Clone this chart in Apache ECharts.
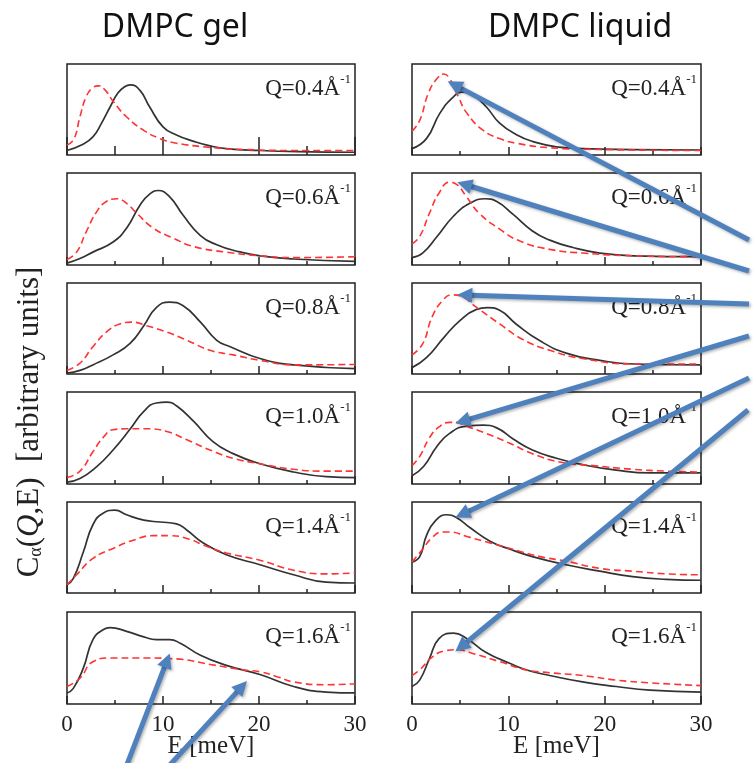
<!DOCTYPE html>
<html><head><meta charset="utf-8">
<script src="https://cdn.jsdelivr.net/npm/echarts@6/dist/echarts.min.js"></script>
<style>html,body{margin:0;padding:0;background:#fff}#c{width:753px;height:763px}</style>
</head><body><div id="c"></div>
<script>
// ---------------- data ----------------
const columnTitles = ['DMPC gel', 'DMPC liquid'];
const qLabels = ['0.4', '0.6', '0.8', '1.0', '1.4', '1.6'];
const xTicks = [0, 10, 20, 30];
const xTitle = 'E [meV]';

// DMPC gel, [E (meV), C (arb. units, panel-normalised)]
const gel04Black = [[0,0.05],[1.5,0.11],[2.7,0.2],[3.6,0.35],[4.5,0.53],[5.3,0.68],[6.0,0.75],[6.6,0.77],[7.6,0.71],[8.6,0.53],[10,0.31],[11.4,0.22],[13.2,0.15],[14.9,0.1],[16.6,0.07],[20,0.05],[24,0.037],[30,0.03]];
const gel04Red   = [[0,0.11],[0.7,0.17],[1.35,0.42],[2,0.64],[2.7,0.74],[3.3,0.76],[4,0.71],[4.8,0.59],[6.2,0.42],[8,0.27],[9.7,0.18],[11.4,0.13],[14.9,0.084],[18.4,0.06],[24,0.05],[30,0.05]];
const gel06Black = [[0,0.02],[1.35,0.07],[2.7,0.14],[4.8,0.25],[6.2,0.4],[7.6,0.65],[8.6,0.77],[9.5,0.81],[10.7,0.74],[12.1,0.54],[13.9,0.32],[15.6,0.22],[17.7,0.15],[20.1,0.1],[23.6,0.065],[30,0.04]];
const gel06Red   = [[0,0.06],[1,0.14],[2,0.36],[3.1,0.58],[4.1,0.69],[5.2,0.72],[6.2,0.67],[7.3,0.56],[9,0.4],[11.1,0.29],[13.2,0.2],[16.6,0.14],[20.1,0.1],[23.6,0.08],[30,0.09]];
const gel08Black = [[0,0.01],[1.35,0.04],[2.7,0.1],[4.8,0.21],[6.6,0.34],[8,0.53],[9.3,0.73],[10.7,0.79],[12.1,0.75],[13.9,0.57],[15.6,0.37],[17,0.3],[20.1,0.17],[23.6,0.1],[30,0.06]];
const gel08Red   = [[0,0.04],[1.35,0.12],[2.7,0.3],[4.1,0.46],[5.5,0.55],[6.7,0.57],[8.3,0.53],[10.4,0.46],[12.5,0.37],[14.9,0.26],[17.3,0.21],[20.1,0.15],[23.6,0.1],[30,0.105]];
const gel10Black = [[0,0.02],[1.35,0.06],[3.1,0.19],[4.8,0.37],[6.6,0.6],[8,0.79],[9.3,0.88],[10.4,0.89],[11.4,0.85],[13.2,0.68],[15.2,0.46],[17.3,0.33],[20.1,0.22],[23.6,0.13],[27,0.08],[30,0.07]];
const gel10Red   = [[0,0.07],[1.35,0.14],[2.7,0.35],[3.8,0.51],[4.8,0.59],[6.2,0.6],[8.3,0.6],[10.4,0.57],[12.5,0.48],[14.9,0.37],[17.3,0.28],[20.1,0.22],[23.6,0.16],[27,0.14],[30,0.14]];
const gel14Black = [[0,0.09],[0.66,0.16],[1.7,0.45],[2.7,0.75],[3.8,0.88],[5,0.91],[6.2,0.86],[8,0.8],[9.7,0.78],[11.4,0.76],[12.5,0.69],[14.2,0.55],[16.6,0.42],[20.1,0.31],[23.6,0.2],[27,0.12],[30,0.11]];
const gel14Red   = [[0,0.09],[1,0.2],[2.7,0.38],[4.8,0.49],[6.9,0.58],[9,0.63],[10.7,0.63],[12.5,0.6],[14.6,0.51],[16.6,0.44],[20.1,0.36],[23.6,0.25],[27,0.21],[30,0.22]];
const gel16Black = [[0,0.12],[0.66,0.17],[1.7,0.39],[2.7,0.7],[3.8,0.81],[4.5,0.83],[6.2,0.79],[8,0.73],[9.3,0.7],[10.7,0.7],[11.8,0.66],[13.9,0.53],[16.6,0.42],[20.1,0.32],[23.6,0.19],[27,0.13],[30,0.12]];
const gel16Red   = [[0,0.19],[1.35,0.28],[2.7,0.46],[4.5,0.5],[8,0.5],[11.4,0.49],[14.9,0.43],[18.4,0.37],[20.1,0.35],[21.8,0.3],[23.6,0.24],[27,0.21],[30,0.22]];

// DMPC liquid
const liq04Black = [[0,0.07],[1.5,0.18],[2.9,0.46],[4.3,0.64],[5.2,0.69],[6.4,0.65],[7.7,0.53],[9.1,0.35],[10.9,0.22],[12.5,0.15],[15,0.09],[17.8,0.07],[23,0.06],[30,0.055]];
const liq04Red   = [[0,0.26],[0.8,0.38],[1.7,0.68],[2.6,0.84],[3.3,0.89],[3.9,0.84],[4.8,0.64],[5.7,0.46],[7.4,0.27],[9.1,0.18],[10.8,0.13],[14.3,0.08],[19.4,0.06],[30,0.05]];
const liq06Black = [[0,0.08],[1.1,0.13],[2.6,0.31],[4.3,0.53],[6,0.67],[7.6,0.72],[8.8,0.69],[10.5,0.55],[12.5,0.37],[14.3,0.27],[16.7,0.19],[19.5,0.13],[23,0.1],[30,0.09]];
const liq06Red   = [[0,0.23],[0.8,0.31],[1.8,0.56],[2.8,0.78],[3.9,0.9],[4.7,0.87],[5.6,0.75],[7,0.56],[9.1,0.39],[11.2,0.26],[14.3,0.17],[17.7,0.13],[23,0.1],[30,0.09]];
const liq08Black = [[0,0.07],[1.5,0.18],[3.3,0.4],[5,0.59],[6.7,0.71],[7.8,0.73],[9.1,0.7],[10.8,0.55],[13.2,0.37],[16,0.23],[19.5,0.15],[23,0.11],[30,0.1]];
const liq08Red   = [[0,0.21],[1.1,0.33],[2.1,0.63],[3.2,0.81],[4.1,0.87],[5.2,0.85],[6.6,0.74],[9.1,0.55],[11.5,0.38],[14.3,0.26],[17.7,0.17],[23,0.11],[30,0.11]];
const liq10Black = [[0,0.09],[1.2,0.19],[2.6,0.41],[3.9,0.55],[5.7,0.63],[7.4,0.64],[8.8,0.61],[10.5,0.49],[12.5,0.37],[15,0.28],[17.7,0.21],[21.2,0.15],[24.7,0.12],[30,0.12]];
const liq10Red   = [[0,0.2],[0.8,0.3],[1.8,0.5],[2.8,0.62],[3.9,0.67],[4.6,0.67],[5.6,0.63],[7.7,0.55],[10.2,0.44],[12.5,0.33],[15.3,0.24],[18.8,0.2],[22.9,0.16],[26.4,0.14],[30,0.13]];
const liq14Black = [[0,0.34],[0.8,0.4],[1.5,0.63],[2.4,0.79],[3.6,0.86],[4.6,0.83],[6,0.72],[8.1,0.57],[10.2,0.48],[12.5,0.4],[16,0.31],[19.5,0.24],[22.9,0.18],[26.4,0.15],[30,0.14]];
const liq14Red   = [[0,0.34],[1.1,0.48],[2.1,0.61],[3.2,0.67],[3.9,0.67],[5.7,0.62],[8.1,0.55],[10.5,0.48],[13.3,0.4],[16,0.35],[19.5,0.27],[22.9,0.24],[26.4,0.21],[30,0.2]];
const liq16Black = [[0,0.19],[0.8,0.26],[1.8,0.49],[2.8,0.71],[4.3,0.77],[5.7,0.71],[7.7,0.56],[10.2,0.44],[11.9,0.37],[14.3,0.31],[17.7,0.24],[21.2,0.19],[24.7,0.15],[30,0.13]];
const liq16Red   = [[0,0.31],[0.8,0.37],[2.1,0.51],[3.5,0.58],[4.6,0.59],[6.3,0.55],[9.1,0.46],[11.9,0.37],[14.3,0.34],[17.7,0.31],[21.2,0.26],[24.7,0.23],[30,0.2]];

// arrow targets: [panel index, E, C]
const arrowTargets = [[6,3.7,0.81],[7,4.7,0.9],[8,4.7,0.87],[9,4.5,0.66],[10,4.5,0.83],[11,4.5,0.57],[5,10.7,0.55],[5,18.75,0.25]];

// ---------------- layout ----------------
const colLeft = [67, 412], colWidth = [288, 289];
const rowTop = [64, 173, 283, 392, 502, 612];
const rowBottom = [155, 265, 374, 484, 593, 704];
const arrowTails = [[749,240],[749,271],[749,304],[749,336],[749,378],[748,410],[121,780],[156,780]];
const serif = '"Liberation Serif", "Times New Roman", serif';
const ink = '#222';

const panels = [
  {col:0,row:0,black:gel04Black,red:gel04Red},{col:0,row:1,black:gel06Black,red:gel06Red},
  {col:0,row:2,black:gel08Black,red:gel08Red},{col:0,row:3,black:gel10Black,red:gel10Red},
  {col:0,row:4,black:gel14Black,red:gel14Red},{col:0,row:5,black:gel16Black,red:gel16Red},
  {col:1,row:0,black:liq04Black,red:liq04Red},{col:1,row:1,black:liq06Black,red:liq06Red},
  {col:1,row:2,black:liq08Black,red:liq08Red},{col:1,row:3,black:liq10Black,red:liq10Red},
  {col:1,row:4,black:liq14Black,red:liq14Red},{col:1,row:5,black:liq16Black,red:liq16Red}
];

const chart = echarts.init(document.getElementById('c'));
const grids = [], xAxes = [], yAxes = [], series = [], graphics = [];
panels.forEach((p, i) => {
  const left = colLeft[p.col], top = rowTop[p.row], w = colWidth[p.col], h = rowBottom[p.row] - top;
  const big = (i === 0);
  grids.push({left, top, width: w, height: h, show: true, borderColor: ink, borderWidth: 1.5, backgroundColor: 'rgba(0,0,0,0)'});
  xAxes.push({gridIndex: i, type: 'value', min: xTicks[0], max: xTicks[xTicks.length-1], interval: xTicks[1]-xTicks[0],
    axisLine: {show: false}, splitLine: {show: false},
    axisTick: {show: true, inside: true, length: big ? 18 : 8, lineStyle: {color: ink, width: 1.5}},
    minorTick: {show: true, splitNumber: 2, length: big ? 9 : 4, lineStyle: {color: ink, width: 1.5}},
    minorSplitLine: {show: false},
    axisLabel: {show: p.row === 5, margin: 9, fontSize: 23, fontFamily: serif, color: ink}});
  yAxes.push({gridIndex: i, type: 'value', min: 0, max: 1, show: false});
  series.push({type: 'line', xAxisIndex: i, yAxisIndex: i, data: p.black, smooth: 0.5, symbol: 'none', silent: true, z: 3,
    lineStyle: {color: '#333', width: 1.7}});
  series.push({type: 'line', xAxisIndex: i, yAxisIndex: i, data: p.red, smooth: 0.5, symbol: 'none', silent: true, z: 4,
    lineStyle: {color: '#ff3333', width: 1.6, type: [7, 4]}});
  graphics.push({type: 'text', id: 'q' + i, x: left + w - 4, y: top + 25, z: 10,
    style: {text: '{q|Q=' + qLabels[p.row] + 'Å}{s|-1}', align: 'right', verticalAlign: 'middle', fill: ink,
      rich: {q: {fontSize: 23, fontFamily: serif, fill: ink, lineHeight: 32}, s: {fontSize: 13, fontFamily: serif, fill: ink, verticalAlign: 'top'}}}});
  if (p.row === 5) {
    graphics.push({type: 'text', id: 'xt' + p.col, x: left + w / 2, y: 746, z: 10,
      style: {text: xTitle, align: 'center', verticalAlign: 'middle', fontSize: 25, fontFamily: serif, fill: ink}});
  }
});
const titleX = [175, 580];
columnTitles.forEach((t, c) => {
  graphics.push({type: 'text', id: 'ct' + c, x: titleX[c], y: 28, z: 10,
    style: {text: t, align: 'center', verticalAlign: 'middle', fontSize: 32, fontFamily: '"Comic Sans MS", "Noto Sans", sans-serif', fill: '#111'}});
});
graphics.push({type: 'text', id: 'ylab', x: 30, y: 422, rotation: Math.PI / 2, z: 10,
  style: {text: '{m|C}{sub|α}{m|(}{i|Q}{m|,E)  [arbitrary units]}', align: 'center', verticalAlign: 'middle', fill: ink,
    rich: {m: {fontSize: 31, fontFamily: serif, fill: ink}, i: {fontSize: 31, fontFamily: serif, fontStyle: 'italic', fill: ink},
      sub: {fontSize: 18, fontFamily: serif, fill: ink, verticalAlign: 'bottom'}}}});

chart.setOption({animation: false, backgroundColor: '#fff', grid: grids, xAxis: xAxes, yAxis: yAxes, series, graphic: graphics});

function arrow(id, tail, tip) {
  const dx = tip[0] - tail[0], dy = tip[1] - tail[1], L = Math.hypot(dx, dy);
  const ux = dx / L, uy = dy / L, hl = 15, hw = 7.5;
  const bx = tip[0] - ux * hl, by = tip[1] - uy * hl;
  const st = {shadowBlur: 3, shadowColor: 'rgba(0,0,0,0.3)', shadowOffsetX: 1.5, shadowOffsetY: 1.5};
  return [
    {type: 'line', id: id + 'l', z: 100, shape: {x1: tail[0], y1: tail[1], x2: bx + ux * 2, y2: by + uy * 2},
      style: Object.assign({stroke: '#4F81BD', lineWidth: 5}, st)},
    {type: 'polygon', id: id + 'h', z: 100, shape: {points: [[tip[0], tip[1]], [bx - uy * hw, by + ux * hw], [bx + uy * hw, by - ux * hw]]},
      style: Object.assign({fill: '#4F81BD'}, st)}
  ];
}
const arrowEls = [];
arrowTargets.forEach((t, k) => {
  const tip = chart.convertToPixel({gridIndex: t[0]}, [t[1], t[2]]);
  arrowEls.push(...arrow('a' + k, arrowTails[k], tip));
});
chart.setOption({graphic: arrowEls});
</script></body></html>
